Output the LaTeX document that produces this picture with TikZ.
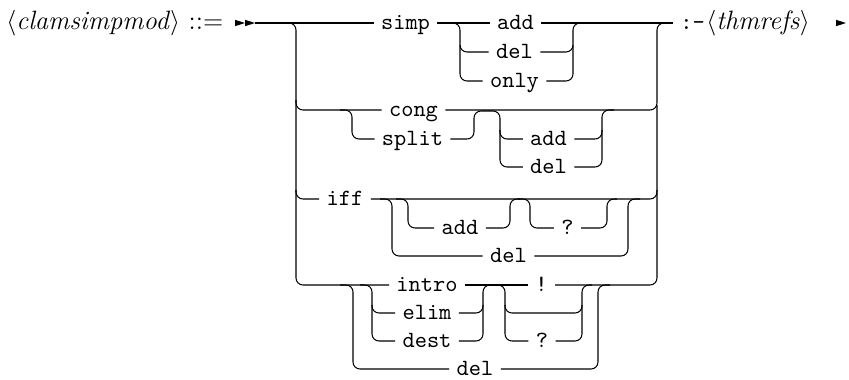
\documentclass[tikz,border=0pt]{standalone}
\begin{document}
\begin{tikzpicture}[x=0.43pt,y=-0.43pt,
  rail/.style={line width=0.45pt, rounded corners=3pt},
  tm/.style={font=\ttfamily, inner xsep=3pt, inner ysep=0pt, text height=5.5pt, text depth=0pt, anchor=center},
  nt/.style={font=\fontsize{11.4}{13}\selectfont, inner xsep=0pt, inner ysep=0pt, text height=6pt, text depth=0pt}]
\path[use as bounding box] (0,0) rectangle (849,379);

% title and ends
\node[nt, anchor=west] (title) at (6,23) {$\langle$\textit{clamsimpmod}$\rangle$ ::=};
\node[tm] (colon) at (692.5,23) {:-};
\node[nt, anchor=west] (thmrefs) at (706,23) {$\langle$\textit{thmrefs}$\rangle$};
\coordinate (s0) at (255,23);
\fill (235,19.8) -- (245,23) -- (235,26.2) -- cycle;
\fill (245,19.8) -- (255,23) -- (245,26.2) -- cycle;
\fill (836,19.8) -- (846,23) -- (836,26.2) -- cycle;

% terminals
\node[tm] (simp)  at (405.5,23) {simp};
\node[tm] (addA)  at (515.5,23) {add};
\node[tm] (delA)  at (514.5,52) {del};
\node[tm] (onlyA) at (514.5,81) {only};
\node[tm] (cong)  at (413.5,110) {cong};
\node[tm] (split) at (412.5,139) {split};
\node[tm] (addB)  at (548.5,139) {add};
\node[tm] (delB)  at (548.5,167) {del};
\node[tm] (iff)   at (345,199) {iff};
\node[tm] (addC)  at (460,228) {add};
\node[tm] (qC)    at (567.5,228) {?};
\node[tm] (delC)  at (508.5,256) {del};
\node[tm] (intro) at (427,285) {intro};
\node[tm] (elim)  at (427,313) {elim};
\node[tm] (dest)  at (427,341) {dest};
\node[tm] (delD)  at (475,369) {del};
\node[tm] (bang)  at (541.5,285) {!};
\node[tm] (qD)    at (542,341) {?};

% main line
\draw[rail] (s0) -- (simp.west);
\draw[rail] (simp.east) -- (addA.west);
\draw[rail] (addA.east) -- (colon.west);

% main left bar
\draw[rail] (282,23) -- (296,23) |- (cong.west);
\draw[rail] (296,100) |- (iff.west);
\draw[rail] (296,190) |- (intro.west);

% simp choice
\draw[rail] (448,23) -- (460,23) |- (delA.west);
\draw[rail] (460,45) |- (onlyA.west);
\draw[rail] (delA.east) -| (573,23) -- (585,23);
\draw[rail] (onlyA.east) -| (573,45);

% cong / split
\draw[rail] (cong.east) -| (657,23) -- (670,23);
\draw[rail] (340,110) -- (352,110) |- (split.west);
\draw[rail] (split.east) -| (474,111) -| (500,139) -- (addB.west);
\draw[rail] (500,130) |- (delB.west);
\draw[rail] (addB.east) -| (602,110) -- (614,110);
\draw[rail] (delB.east) -| (602,130);

% iff
\draw[rail] (iff.east) -| (657,105);
\draw[rail] (380,199) -- (392,199) |- (delC.west);
\draw[rail] (396,199) -- (408,199) |- (addC.west);
\draw[rail] (addC.east) -| (510,199) -- (520,199);
\draw[rail] (518,199) -- (530,199) |- (qC.west);
\draw[rail] (qC.east) -| (607,199) -- (617,199);
\draw[rail] (delC.east) -| (628,199) -- (640,199);

% intro
\draw[rail] (intro.east) -- (bang.west);
\draw[rail] (bang.east) -| (657,190);
\draw[rail] (340,285) -- (353,285) |- (delD.west);
\draw[rail] (360,285) -- (372,285) |- (elim.west);
\draw[rail] (372,305) |- (dest.west);
\draw[rail] (elim.east) -| (483,285) -- (493,285);
\draw[rail] (dest.east) -| (483,305);
\draw[rail] (493,285) -- (505,285) |- (543,313) -| (582,285) -- (592,285);
\draw[rail] (505,305) |- (qD.west);
\draw[rail] (qD.east) -| (582,305);
\draw[rail] (delD.east) -| (598,285) -- (610,285);
\end{tikzpicture}
\end{document}
